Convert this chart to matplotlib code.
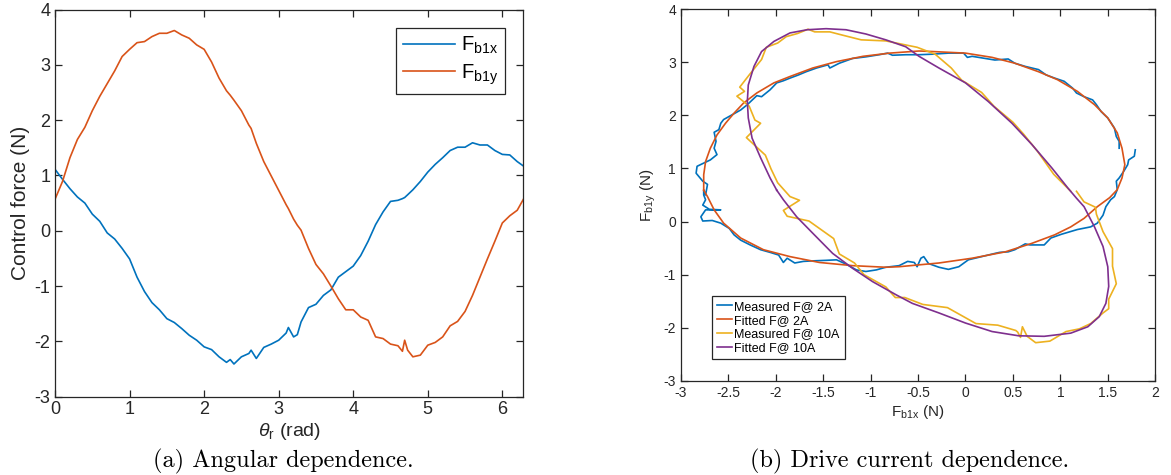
import matplotlib
matplotlib.use('Agg')
import matplotlib.pyplot as plt

plt.rcParams['font.family'] = ['Liberation Sans', 'DejaVu Sans']
plt.rcParams['axes.unicode_minus'] = False
plt.rcParams['mathtext.fontset'] = 'custom'
plt.rcParams['mathtext.rm'] = 'Liberation Sans'
plt.rcParams['mathtext.it'] = 'Liberation Sans:italic'
plt.rcParams['lines.solid_joinstyle'] = 'round'

# Winkel und gemessene Kraefte (10 A)
theta = [0.00, 0.10, 0.20, 0.30, 0.40, 0.50, 0.60, 0.70, 0.80, 0.90,
         1.00, 1.10, 1.20, 1.30, 1.40, 1.50, 1.60, 1.70, 1.80, 1.90,
         2.00, 2.10, 2.20, 2.30, 2.35, 2.40, 2.50, 2.60, 2.63, 2.70,
         2.80, 2.90, 3.00, 3.10, 3.13, 3.20, 3.25, 3.30, 3.40, 3.50,
         3.60, 3.70, 3.80, 3.90, 4.00, 4.10, 4.20, 4.30, 4.40, 4.50,
         4.60, 4.66, 4.69, 4.73, 4.80, 4.90, 5.00, 5.10, 5.20, 5.30,
         5.40, 5.50, 5.60, 5.70, 5.80, 5.90, 6.00, 6.10, 6.20, 6.283]
f_b1x = [1.11, 0.93, 0.76, 0.61, 0.50, 0.30, 0.17, -0.04, -0.15, -0.32,
         -0.51, -0.84, -1.10, -1.30, -1.43, -1.59, -1.66, -1.77, -1.89, -1.98,
         -2.10, -2.15, -2.28, -2.38, -2.33, -2.41, -2.28, -2.22, -2.16, -2.31,
         -2.11, -2.05, -1.98, -1.85, -1.75, -1.92, -1.88, -1.65, -1.39, -1.33,
         -1.17, -1.07, -0.84, -0.74, -0.64, -0.45, -0.19, 0.11, 0.34, 0.53,
         0.55, 0.58, 0.60, 0.65, 0.74, 0.89, 1.06, 1.20, 1.32, 1.45,
         1.51, 1.51, 1.59, 1.55, 1.55, 1.45, 1.38, 1.37, 1.25, 1.17]
f_b1y = [0.57, 0.89, 1.32, 1.65, 1.87, 2.17, 2.43, 2.66, 2.89, 3.15,
         3.28, 3.40, 3.42, 3.51, 3.57, 3.57, 3.62, 3.54, 3.48, 3.36,
         3.28, 3.05, 2.76, 2.53, 2.45, 2.36, 2.17, 1.91, 1.85, 1.58,
         1.25, 0.99, 0.73, 0.47, 0.40, 0.21, 0.10, 0.01, -0.32, -0.61,
         -0.78, -1.00, -1.23, -1.43, -1.43, -1.56, -1.62, -1.92, -1.95, -2.05,
         -2.08, -2.18, -1.98, -2.16, -2.28, -2.25, -2.07, -2.02, -1.92, -1.72,
         -1.64, -1.46, -1.17, -0.84, -0.51, -0.19, 0.14, 0.27, 0.37, 0.57]

# gemessene Kraft bei 2 A
meas2_x = [1.79, 1.78, 1.72, 1.71, 1.67, 1.62, 1.59, 1.60, 1.57, 1.53, 1.48, 1.45,
           1.39, 1.32, 1.18, 1.01, 0.90, 0.83, 0.77, 0.68, 0.63, 0.52, 0.45, 0.36,
           0.31, 0.17, 0.03, -0.07, -0.18, -0.28, -0.39, -0.44, -0.47, -0.51, -0.54,
           -0.61, -0.70, -0.84, -0.94, -1.05, -1.15, -1.26, -1.36, -1.47, -1.61,
           -1.71, -1.80, -1.88, -1.92, -1.97, -2.06, -2.16, -2.27, -2.37, -2.44,
           -2.49, -2.58, -2.67, -2.77, -2.79, -2.74, -2.58, -2.70, -2.77, -2.74,
           -2.76, -2.76, -2.74, -2.72, -2.77, -2.84, -2.83, -2.76, -2.69, -2.62,
           -2.65, -2.63, -2.65, -2.60, -2.58, -2.55, -2.46, -2.37, -2.30, -2.20,
           -2.15, -2.06, -1.99, -1.92, -1.85, -1.76, -1.68, -1.57, -1.45, -1.43,
           -1.33, -1.19, -1.05, -0.91, -0.82, -0.77, -0.63, -0.49, -0.35, -0.18,
           -0.02, 0.02, 0.07, 0.21, 0.31, 0.45, 0.52, 0.63, 0.77, 0.85, 0.94,
           1.04, 1.13, 1.17, 1.25, 1.34, 1.38, 1.43, 1.50, 1.57, 1.59, 1.62, 1.62]
meas2_y = [1.35, 1.23, 1.16, 1.07, 0.95, 0.82, 0.76, 0.60, 0.47, 0.41, 0.28, 0.12,
           -0.03, -0.10, -0.15, -0.24, -0.31, -0.44, -0.44, -0.44, -0.42, -0.53, -0.57, -0.58,
           -0.60, -0.66, -0.72, -0.85, -0.90, -0.86, -0.79, -0.66, -0.69, -0.85, -0.77,
           -0.75, -0.83, -0.86, -0.91, -0.94, -0.91, -0.80, -0.72, -0.73, -0.74,
           -0.75, -0.78, -0.69, -0.77, -0.63, -0.58, -0.53, -0.44, -0.35, -0.25,
           -0.13, -0.03, 0.02, 0.01, 0.09, 0.22, 0.22, 0.23, 0.31, 0.41,
           0.50, 0.59, 0.50, 0.70, 0.76, 0.91, 1.04, 1.10, 1.16, 1.26,
           1.38, 1.51, 1.68, 1.73, 1.85, 1.92, 2.01, 2.10, 2.20, 2.37,
           2.35, 2.48, 2.61, 2.65, 2.70, 2.76, 2.82, 2.89, 2.95, 2.89,
           2.98, 3.07, 3.10, 3.14, 3.17, 3.13, 3.14, 3.14, 3.15, 3.17,
           3.17, 3.09, 3.11, 3.07, 3.04, 3.06, 2.98, 2.92, 2.86, 2.76, 2.70,
           2.64, 2.51, 2.42, 2.35, 2.29, 2.20, 2.07, 1.95, 1.76, 1.60, 1.51, 1.38]

# Fit bei 2 A
fit2_x = [-2.76, -2.76, -2.74, -2.69, -2.62, -2.53, -2.44, -2.34, -2.20, -2.02,
          -1.85, -1.61, -1.36, -1.08, -0.80, -0.49, -0.35, 0.00, 0.28, 0.52,
          0.77, 0.97, 1.18, 1.36, 1.50, 1.60, 1.65, 1.68, 1.65, 1.60, 1.52,
          1.39, 1.25, 1.11, 0.94, 0.70, 0.42, 0.07, -0.28, -0.70, -0.84,
          -1.19, -1.54, -1.85, -2.13, -2.37, -2.55, -2.65, -2.72, -2.76]
fit2_y = [0.59, 0.88, 1.13, 1.38, 1.63, 1.85, 2.04, 2.23, 2.42, 2.61,
          2.73, 2.89, 3.01, 3.11, 3.17, 3.21, 3.20, 3.17, 3.09, 2.98,
          2.82, 2.67, 2.45, 2.20, 1.95, 1.67, 1.38, 1.07, 0.82, 0.60, 0.45,
          0.28, 0.06, -0.10, -0.25, -0.41, -0.57, -0.69, -0.78, -0.85, -0.86,
          -0.83, -0.77, -0.66, -0.53, -0.31, -0.03, 0.22, 0.47, 0.59]

# Fit bei 10 A
fit10_x = [-1.99, -2.06, -2.16, -2.25, -2.29, -2.30, -2.29, -2.23, -2.15, -2.02,
           -1.85, -1.67, -1.47, -1.26, -1.05, -0.84, -0.63, -0.49, -0.28, 0.00,
           0.24, 0.49, 0.70, 0.91, 1.08, 1.17, 1.25, 1.36, 1.45, 1.50,
           1.51, 1.48, 1.41, 1.29, 1.11, 0.83, 0.56, 0.28, 0.00, -0.28,
           -0.56, -0.73, -0.98, -1.19, -1.40, -1.61, -1.78, -1.92, -1.99]
fit10_y = [0.59, 0.82, 1.20, 1.57, 1.95, 2.26, 2.57, 2.92, 3.20, 3.39,
           3.55, 3.61, 3.63, 3.61, 3.53, 3.42, 3.29, 3.11, 2.89, 2.61,
           2.26, 1.85, 1.45, 1.01, 0.63, 0.44, 0.28, -0.10, -0.47, -0.85,
           -1.22, -1.54, -1.79, -1.98, -2.10, -2.16, -2.15, -2.07, -1.91, -1.72,
           -1.54, -1.38, -1.13, -0.88, -0.60, -0.22, 0.09, 0.41, 0.59]

blue = '#0072BD'
orange = '#D95319'
yellow = '#EDB120'
purple = '#7E2F8E'
axcol = '#262626'


def matlab_style(ax, size):
    for s in ax.spines.values():
        s.set_color(axcol)
        s.set_linewidth(0.9)
    ax.tick_params(direction='in', top=True, right=True, colors=axcol,
                   labelsize=size, length=5, width=0.9)


fig = plt.figure(figsize=(11.71, 4.75), dpi=100)

# (a) Winkelabhaengigkeit
ax1 = fig.add_axes([0.047, 0.165, 0.400, 0.815])
ax1.plot(theta, f_b1x, color=blue, lw=1.2, label=r'F$_{\mathrm{b1x}}$')
ax1.plot(theta, f_b1y, color=orange, lw=1.2, label=r'F$_{\mathrm{b1y}}$')
ax1.set_xlim(0, 6.2832)
ax1.set_ylim(-3, 4)
ax1.set_xticks(range(0, 7))
ax1.set_yticks(range(-3, 5))
matlab_style(ax1, 13)
ax1.set_xlabel(r'$\mathit{\theta}_{\mathrm{r}}$ (rad)', fontsize=14, color=axcol, labelpad=2)
ax1.set_ylabel('Control force (N)', fontsize=15, color=axcol, labelpad=3)
leg1 = ax1.legend(loc='upper right', fontsize=14.5, handlelength=2.6, handletextpad=0.3,
                  labelspacing=0.3, fancybox=False, framealpha=1, edgecolor=axcol,
                  borderaxespad=0.9, borderpad=0.35)
leg1.get_frame().set_linewidth(0.9)

# (b) Abhaengigkeit vom Antriebsstrom
ax2 = fig.add_axes([0.5815, 0.198, 0.405, 0.783])
ax2.plot(meas2_x, meas2_y, color=blue, lw=1.2, label='Measured F@ 2A')
ax2.plot(fit2_x, fit2_y, color=orange, lw=1.2, label='Fitted F@ 2A')
ax2.plot(f_b1x, f_b1y, color=yellow, lw=1.2, label='Measured F@ 10A')
ax2.plot(fit10_x, fit10_y, color=purple, lw=1.2, label='Fitted F@ 10A')
ax2.set_xlim(-3, 2)
ax2.set_ylim(-3, 4)
xt = [-3, -2.5, -2, -1.5, -1, -0.5, 0, 0.5, 1, 1.5, 2]
ax2.set_xticks(xt)
ax2.set_xticklabels(['%g' % v for v in xt])
ax2.set_yticks(range(-3, 5))
matlab_style(ax2, 10)
ax2.set_xlabel(r'F$_{\mathrm{b1x}}$ (N)', fontsize=11, color=axcol, labelpad=2)
ax2.set_ylabel(r'F$_{\mathrm{b1y}}$ (N)', fontsize=11, color=axcol, labelpad=4)
leg2 = ax2.legend(loc='lower left', fontsize=9, handlelength=1.2, handletextpad=0.2,
                  labelspacing=0.15, fancybox=False, framealpha=1, edgecolor=axcol,
                  borderaxespad=0, bbox_to_anchor=(0.065, 0.058))
leg2.get_frame().set_linewidth(0.9)

fig.text(0.242, 0.028, '(a) Angular dependence.', family=['cmr10', 'DejaVu Serif'],
         fontsize=17.5, ha='center', va='center')
fig.text(0.777, 0.028, '(b) Drive current dependence.', family=['cmr10', 'DejaVu Serif'],
         fontsize=17.5, ha='center', va='center')

fig.savefig('out.png', dpi=100)
